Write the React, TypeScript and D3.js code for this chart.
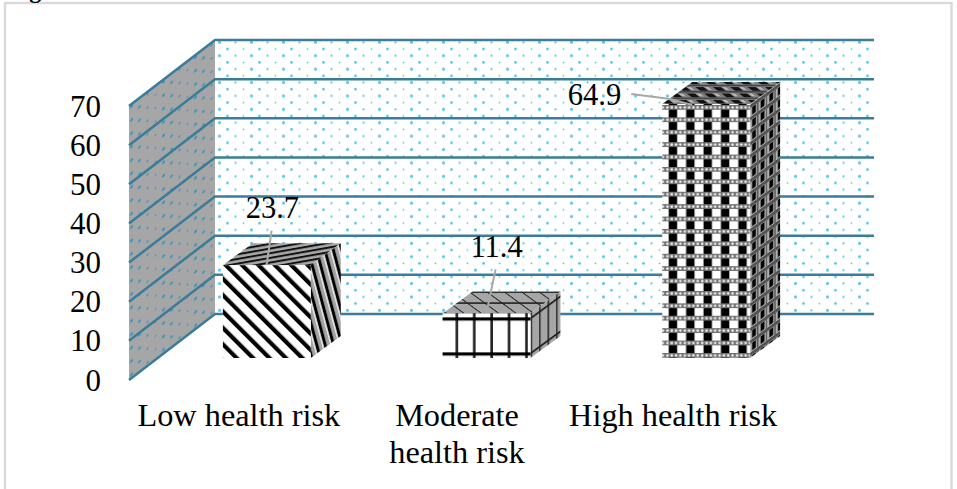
import React from "react";
import * as d3 from "d3";

// Health-risk shares, in percent
const categories = ["Low health risk", "Moderate health risk", "High health risk"];
const values = [23.7, 11.4, 64.9];
const axisTicks = [0, 10, 20, 30, 40, 50, 60, 70];

const WIDTH = 957;
const HEIGHT = 489;

// Oblique projection of the chart box
const depthX = 86;
const depthY = -66;
const y = d3.scaleLinear().domain([0, 70]).range([380, 106]);
const x = d3.scaleBand().domain(categories).range([129, 788]);
const barWidth = x.bandwidth() * 0.4;
const barInsetX = 28;
const barInsetY = -22;
const barDepthX = 30;
const barDepthY = -22;

const poly = d3.line();
const GRID = "#3a7c99";
const serif = "'Liberation Serif', 'Times New Roman', serif";

// Splits a label into the lines drawn under the axis
const labelLines = [["Low health risk"], ["Moderate", "health risk"], ["High health risk"]];
const labelNudge = [0, -1.5, -5];

// Value label anchors and leader lines, relative to each bar's front top-left corner
const valueLabels = [
  { tx: 49.5, ty: -47, anchor: "middle", leader: [[48.7, -34.5], [43.7, 0]] },
  { tx: 54, ty: -56.5, anchor: "middle", leader: [[53, -44], [44, -1]] },
  { tx: -41, ty: 1, anchor: "end", leader: [[-31, -10], [8, -5], [30, 1]] },
];

function shearSide(tx: number, ty: number) {
  return `matrix(1 ${barDepthY / barDepthX} 0 1 ${tx} ${ty})`;
}
function shearTop(tx: number, ty: number) {
  const k = -barDepthX / barDepthY;
  return `matrix(1 0 ${k} 1 ${tx - k * ty} ${ty})`;
}

function dots(fill: string) {
  const rows = [
    [2.5, 2.3, 1.5, 18.5, 2.3, 1.1],
    [10.5, 9, 1.4, 26.5, 9, 0.9],
  ];
  return rows.flatMap((r, i) => [
    <circle key={`a${i}`} cx={r[0]} cy={r[1]} r={r[2]} fill={fill} />,
    <circle key={`b${i}`} cx={r[3]} cy={r[4]} r={r[5]} fill={fill} />,
  ]);
}

export default function App() {
  const base = y(0);
  const bars = values.map((v, i) => {
    const x0 = x(categories[i])! + (x.bandwidth() - barWidth) / 2 + barInsetX;
    const yb = base + barInsetY;
    const yt = y(v) + barInsetY;
    return { v, i, x0, x1: x0 + barWidth, yb, yt };
  });
  const wall = [
    [129, y(0)],
    [129, y(70)],
    [129 + depthX, y(70) + depthY],
    [129 + depthX, y(0) + depthY],
  ] as [number, number][];

  return (
    <svg
      width={WIDTH}
      height={HEIGHT}
      viewBox={`0 0 ${WIDTH} ${HEIGHT}`}
      style={{ position: "absolute", left: 0, top: 0, display: "block", background: "#fff" }}
    >
      <defs>
        <pattern id="wallDots" patternUnits="userSpaceOnUse" width={32} height={13.4} patternTransform={`translate(217 40)`}>
          {dots("#55c4f2")}
        </pattern>
        <pattern
          id="sideDots"
          patternUnits="userSpaceOnUse"
          width={32}
          height={13.4}
          patternTransform={`matrix(1 ${depthY / depthX} 0 1 129 106)`}
        >
          {dots("#3f93bb")}
        </pattern>

        {/* Low risk: diagonal stripes */}
        <pattern id="lowFront" patternUnits="userSpaceOnUse" width={11.6} height={11.6} patternTransform={`translate(${bars[0].x0} ${bars[0].yt}) rotate(-45)`}>
          <rect width={11.6} height={11.6} fill="#fff" />
          <rect width={4.2} height={11.6} fill="#000" />
        </pattern>
        <pattern id="lowSide" patternUnits="userSpaceOnUse" width={8.4} height={80} patternTransform={`translate(${bars[0].x1} ${bars[0].yt}) skewX(15)`}>
          <rect width={8.4} height={80} fill="#a4a4a4" />
          <rect x={0} width={3} height={80} fill="#000" />
          <rect x={6.6} width={1.2} height={80} fill="#f4f4f4" />
        </pattern>
        <pattern id="lowTop" patternUnits="userSpaceOnUse" width={60} height={4.6} patternTransform={`translate(${bars[0].x0} ${bars[0].yt}) rotate(-10)`}>
          <rect width={60} height={4.6} fill="#a8a8a8" />
          <rect width={60} height={2} fill="#111" />
        </pattern>

        {/* Moderate risk: open grid */}
        <pattern id="modFront" patternUnits="userSpaceOnUse" width={17.4} height={35} patternTransform={`translate(${bars[1].x0 + 5} ${bars[1].yt + 4})`}>
          <rect width={17.4} height={35} fill="#fff" />
          <rect x={8} width={2.6} height={35} fill="#222" />
          <rect y={0} width={17.4} height={3.2} fill="#000" />
        </pattern>
        <pattern id="modSide" patternUnits="userSpaceOnUse" width={8.5} height={35} patternTransform={shearSide(bars[1].x1, bars[1].yt + 4)}>
          <rect width={8.5} height={35} fill="#a6a6a6" />
          <rect x={0} width={1.8} height={35} fill="#3a3a3a" />
          <rect y={0} width={8.5} height={2.2} fill="#222" />
        </pattern>
        <pattern id="modTop" patternUnits="userSpaceOnUse" width={17.4} height={11} patternTransform={shearTop(bars[1].x0 + 5, bars[1].yt)}>
          <rect width={17.4} height={11} fill="#a6a6a6" />
          <rect x={8} width={1.6} height={11} fill="#222" />
          <rect y={0} width={17.4} height={1.6} fill="#222" />
        </pattern>

        {/* High risk: black checks under chain-like bands */}
        <pattern id="highFront" patternUnits="userSpaceOnUse" width={17.4} height={12.4} patternTransform={`translate(${bars[2].x0 + 3} ${bars[2].yt + 1})`}>
          <rect width={17.4} height={12.4} fill="#fff" />
          <rect x={3.5} y={4.8} width={8.4} height={7.6} fill="#000" />
          <rect x={0} y={0} width={17.4} height={4.8} fill="#707070" />
          <circle cx={2.2} cy={2.4} r={1.3} fill="#f0f0f0" />
          <circle cx={6.5} cy={2.4} r={1.3} fill="#f0f0f0" />
          <circle cx={10.8} cy={2.4} r={1.3} fill="#f0f0f0" />
          <circle cx={15.1} cy={2.4} r={1.3} fill="#f0f0f0" />
        </pattern>
        <pattern id="highSide" patternUnits="userSpaceOnUse" width={8.6} height={12.4} patternTransform={shearSide(bars[2].x1, bars[2].yt + 1)}>
          <rect width={8.6} height={12.4} fill="#b0b0b0" />
          <rect x={2} y={3.8} width={3.8} height={7.4} fill="#000" />
          <rect x={0} y={0} width={8.6} height={3.4} fill="#505050" />
          <rect x={7} width={1.4} height={12.4} fill="#5a5a5a" />
        </pattern>
        <pattern id="highTop" patternUnits="userSpaceOnUse" width={17.4} height={6.4} patternTransform={shearTop(bars[2].x0 + 3, bars[2].yt)}>
          <rect width={17.4} height={6.4} fill="#7c7c7c" />
          <rect x={3.5} y={2.4} width={8} height={3.6} fill="#111" />
          <rect y={0} width={17.4} height={1.4} fill="#444" />
          <rect x={13} y={2.4} width={3.4} height={2.6} fill="#bdbdbd" />
        </pattern>
      </defs>

      {/* Page frame and the caption running off the top edge */}
      <rect x={5} y={3} width={946.5} height={490} fill="#fff" stroke="#d9d9d9" strokeWidth={2.4} />
      <text x={8} y={-2} fontFamily={serif} fontWeight="bold" fontSize={24} fill="#000">
        Figure
      </text>

      {/* Back wall */}
      <rect
        x={129 + depthX}
        y={y(70) + depthY}
        width={x.range()[1] - x.range()[0]}
        height={y(0) - y(70)}
        fill="url(#wallDots)"
      />
      {/* Side wall */}
      <path d={poly(wall)! + "Z"} fill="#a6a6a6" />
      <path d={poly(wall)! + "Z"} fill="url(#sideDots)" />

      {/* Gridlines carried across both walls */}
      {axisTicks.map((t) => (
        <path
          key={t}
          d={
            poly([
              [129, y(t)],
              [129 + depthX, y(t) + depthY],
              [x.range()[1] + depthX, y(t) + depthY],
            ])!
          }
          fill="none"
          stroke={GRID}
          strokeWidth={2.5}
        />
      ))}

      {/* Value axis */}
      {axisTicks.map((t) => (
        <text key={t} x={101} y={y(t) + 10.5} textAnchor="end" fontFamily={serif} fontSize={31} fill="#000">
          {t}
        </text>
      ))}

      {/* Bars */}
      {bars.map((b, i) => {
        const names = ["low", "mod", "high"][i];
        return (
          <g key={categories[i]}>
            <path
              d={
                poly([
                  [b.x0, b.yt],
                  [b.x0 + barDepthX, b.yt + barDepthY],
                  [b.x1 + barDepthX, b.yt + barDepthY],
                  [b.x1, b.yt],
                ])! + "Z"
              }
              fill={`url(#${names}Top)`}
            />
            <path
              d={
                poly([
                  [b.x1, b.yt],
                  [b.x1 + barDepthX, b.yt + barDepthY],
                  [b.x1 + barDepthX, b.yb + barDepthY],
                  [b.x1, b.yb],
                ])! + "Z"
              }
              fill={`url(#${names}Side)`}
            />
            <rect x={b.x0} y={b.yt} width={barWidth} height={b.yb - b.yt} fill={`url(#${names}Front)`} />
          </g>
        );
      })}

      {/* Value labels with leader lines */}
      {bars.map((b, i) => {
        const l = valueLabels[i];
        return (
          <g key={categories[i]}>
            <path
              d={poly(l.leader.map(([dx, dy]) => [b.x0 + dx, b.yt + dy] as [number, number]))!}
              fill="none"
              stroke="#a8a8a8"
              strokeWidth={2}
            />
            <text
              x={b.x0 + l.tx}
              y={b.yt + l.ty}
              textAnchor={l.anchor as "middle" | "end"}
              fontFamily={serif}
              fontSize={30.5}
              fill="#000"
            >
              {b.v}
            </text>
          </g>
        );
      })}

      {/* Category labels */}
      {categories.map((c, i) => {
        const cx = x(c)! + x.bandwidth() / 2 + labelNudge[i];
        return (
          <text key={c} x={cx} y={426} textAnchor="middle" fontFamily={serif} fontSize={32.3} fill="#000">
            {labelLines[i].map((line, j) => (
              <tspan key={line} x={cx} dy={j === 0 ? 0 : 37}>
                {line}
              </tspan>
            ))}
          </text>
        );
      })}
    </svg>
  );
}
